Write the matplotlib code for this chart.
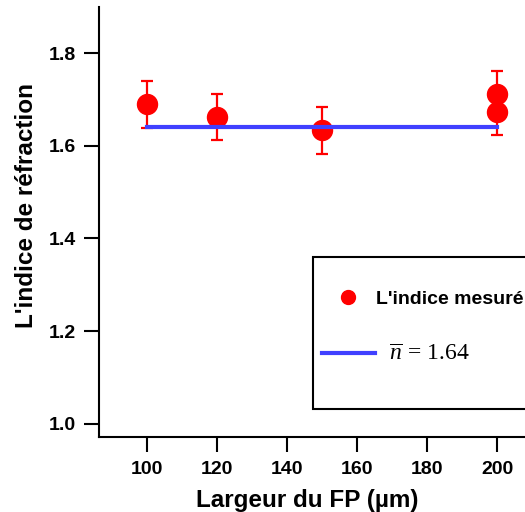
import numpy as np
import matplotlib
matplotlib.use("Agg")
import matplotlib.pyplot as plt
from matplotlib.lines import Line2D
from matplotlib.patches import Rectangle

# measured data
largeur = [100, 120, 150, 200, 200]
indice = [1.689, 1.662, 1.633, 1.711, 1.673]
erreur = [0.05, 0.05, 0.05, 0.05, 0.05]
n_moyen = 1.64
fit_x = [100, 200]

xticks = [100, 120, 140, 160, 180, 200]
yticks = [1.0, 1.2, 1.4, 1.6, 1.8]

RED = '#ff0000'
BLUE = '#4040ff'
W, H = 525, 512

plt.rcParams['font.family'] = ['Liberation Sans', 'DejaVu Sans']
plt.rcParams['mathtext.fontset'] = 'custom'
plt.rcParams['mathtext.rm'] = 'Liberation Serif'
plt.rcParams['mathtext.it'] = 'Liberation Serif:italic'

fig = plt.figure(figsize=(W / 100, H / 100), dpi=100)
ax = fig.add_axes([99 / W, 75.3 / H, 433.4 / W, 430 / H])

ax.errorbar(largeur, indice, yerr=erreur, fmt='o', color=RED, ecolor=RED,
            markersize=14.4, elinewidth=1.6, capsize=4.6, capthick=1.6,
            zorder=2)
ax.plot(fit_x, [n_moyen] * len(fit_x), color=BLUE, lw=3, zorder=3)

ax.set_xlim(86.41, 210)
ax.set_ylim(0.972, 1.9)
ax.set_xticks(xticks)
ax.set_yticks(yticks)
ax.set_xticklabels([str(v) for v in xticks], fontweight='bold')
ax.set_yticklabels(['%.1f' % v for v in yticks], fontweight='bold')

for s in ['top', 'right']:
    ax.spines[s].set_visible(False)
for s in ['left', 'bottom']:
    ax.spines[s].set_linewidth(1.5)
ax.tick_params(axis='both', direction='out', length=10.8, width=1.5,
               labelsize=14)
ax.tick_params(axis='y', pad=5.5)
ax.tick_params(axis='x', pad=7)

ax.set_xlabel('Largeur du FP (µm)', fontsize=17.5, fontweight='bold')
ax.set_ylabel("L'indice de réfraction", fontsize=17.5, fontweight='bold')
ax.xaxis.set_label_coords(0.481, -0.122)
ax.yaxis.set_label_coords(-0.141, 0.538)

# legend frame drawn separately so the inner padding can be set freely
frame = Rectangle((313.3 / W, 1 - 409 / H), 240 / W, (409 - 257.3) / H,
                  transform=fig.transFigure, facecolor='white',
                  edgecolor='black', lw=1.5, zorder=5, clip_on=False)
ax.add_patch(frame)

handles = [
    Line2D([], [], marker='o', ls='none', color=RED, markersize=10),
    Line2D([], [], color=BLUE, lw=3),
]
labels = ["L'indice mesuré", r'  $\overline{n}\,=\,1.64$']
leg = ax.legend(handles, labels, loc='upper left',
                bbox_to_anchor=(322 / W, 1 - 290 / H),
                bbox_transform=fig.transFigure,
                prop={'size': 14, 'weight': 'bold'},
                frameon=False, handlelength=2.7, handletextpad=0.1,
                labelspacing=1.8, borderpad=0, borderaxespad=0)
leg.set_zorder(6)
leg.get_texts()[1].set_fontsize(17)
leg.get_texts()[1].set_fontweight('normal')

fig.savefig('out.png', dpi=100)
